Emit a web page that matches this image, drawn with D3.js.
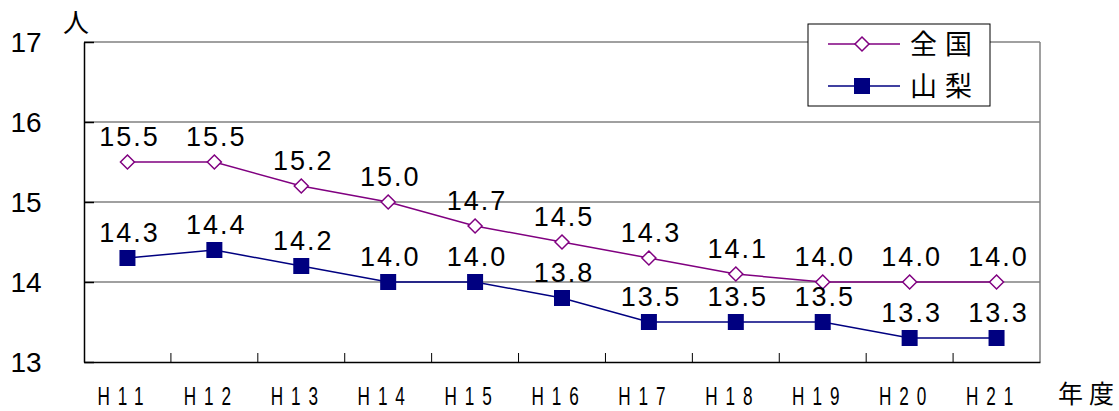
<!DOCTYPE html>
<html>
<head>
<meta charset="utf-8">
<script src="https://cdn.jsdelivr.net/npm/d3@7"></script>
<style>
  body { margin: 0; background: #fff; }
  text { font-family: "Liberation Sans", Arial, sans-serif; fill: #000; }
</style>
</head>
<body>
<div id="chart"></div>
<script>
const years = ['H11', 'H12', 'H13', 'H14', 'H15', 'H16', 'H17', 'H18', 'H19', 'H20', 'H21']
const national = [15.5, 15.5, 15.2, 15.0, 14.7, 14.5, 14.3, 14.1, 14.0, 14.0, 14.0]
const yamanashi = [14.3, 14.4, 14.2, 14.0, 14.0, 13.8, 13.5, 13.5, 13.5, 13.3, 13.3]
const yTicks = [13, 14, 15, 16, 17]

const width = 1119
const height = 411
const margin = { top: 42, right: 79, bottom: 49, left: 84 }

const svg = d3
  .select('#chart')
  .append('svg')
  .attr('width', width)
  .attr('height', height)

const x = d3
  .scaleBand()
  .domain(years)
  .range([margin.left, width - margin.right])

const y = d3
  .scaleLinear()
  .domain([13, 17])
  .range([height - margin.bottom, margin.top])

const cx = d => x(d) + x.bandwidth() / 2

// gridlines
svg
  .append('g')
  .selectAll('line')
  .data(yTicks.slice(1))
  .enter()
  .append('line')
  .attr('x1', margin.left)
  .attr('x2', width - margin.right)
  .attr('y1', d => y(d))
  .attr('y2', d => y(d))
  .attr('stroke', '#808080')
  .attr('stroke-width', 1.5)

// right border
svg
  .append('line')
  .attr('x1', width - margin.right)
  .attr('x2', width - margin.right)
  .attr('y1', y(17))
  .attr('y2', y(13))
  .attr('stroke', '#808080')
  .attr('stroke-width', 1.5)

// y axis
const yAxis = svg
  .append('g')
  .attr('transform', 'translate(' + margin.left + ',0)')
  .call(d3.axisLeft(y).tickValues(yTicks).tickSize(0).tickPadding(0).tickFormat(d3.format('d')))
yAxis.select('.domain').attr('stroke', '#000').attr('stroke-width', 1.5)
yAxis.selectAll('.tick line').remove()
yAxis
  .selectAll('.tick text')
  .attr('x', -58)
  .attr('text-anchor', 'middle')
  .attr('dy', '0.35em')
  .style('font-size', '28px')
  .style('font-family', '"Liberation Sans", Arial, sans-serif')

// small ticks on y axis inside
yAxis
  .selectAll('.tick')
  .append('line')
  .attr('x1', 0)
  .attr('x2', 10)
  .attr('stroke', '#000')
  .attr('stroke-width', 1.5)

// x axis
const xAxis = svg
  .append('g')
  .attr('transform', 'translate(0,' + y(13) + ')')
  .call(d3.axisBottom(x).tickSize(0).tickFormat(''))
xAxis.select('.domain').attr('stroke', '#000').attr('stroke-width', 1.5)
xAxis.selectAll('.tick').remove()

xAxis
  .selectAll('line.sep')
  .data(years.slice(1))
  .enter()
  .append('line')
  .attr('class', 'sep')
  .attr('x1', d => x(d))
  .attr('x2', d => x(d))
  .attr('y1', 0)
  .attr('y2', -9)
  .attr('stroke', '#000')
  .attr('stroke-width', 1)

svg
  .append('g')
  .selectAll('text')
  .data(years)
  .enter()
  .append('text')
  .attr('transform', d => 'translate(' + (cx(d) - 3) + ',' + 405 + ') scale(0.66,1)')
  .attr('text-anchor', 'middle')
  .style('font-size', '26px')
  .style('letter-spacing', '12px')
  .text(d => d)

// unit labels
svg
  .append('text')
  .attr('x', 76)
  .attr('y', 32)
  .attr('text-anchor', 'middle')
  .style('font-size', '26px')
  .style('font-family', '"Noto Sans CJK JP", sans-serif')
  .text('人')

svg
  .append('text')
  .attr('x', 1058)
  .attr('y', 403)
  .style('font-size', '25px')
  .style('letter-spacing', '6px')
  .style('font-family', '"Noto Sans CJK JP", sans-serif')
  .text('年度')

const line = d3
  .line()
  .x((d, i) => cx(years[i]))
  .y(d => y(d))

// 全国
svg
  .append('path')
  .datum(national)
  .attr('fill', 'none')
  .attr('stroke', '#800080')
  .attr('stroke-width', 1.5)
  .attr('d', line)

const diamond = 'M0,-7L7,0L0,7L-7,0Z'

svg
  .append('g')
  .selectAll('path')
  .data(national)
  .enter()
  .append('path')
  .attr('transform', (d, i) => 'translate(' + cx(years[i]) + ',' + y(d) + ')')
  .attr('d', diamond)
  .attr('fill', '#fff')
  .attr('stroke', '#800080')
  .attr('stroke-width', 1.5)

// 山梨
svg
  .append('path')
  .datum(yamanashi)
  .attr('fill', 'none')
  .attr('stroke', '#000080')
  .attr('stroke-width', 1.5)
  .attr('d', line)

svg
  .append('g')
  .selectAll('rect')
  .data(yamanashi)
  .enter()
  .append('rect')
  .attr('x', (d, i) => cx(years[i]) - 8)
  .attr('y', d => y(d) - 8)
  .attr('width', 16)
  .attr('height', 16)
  .attr('fill', '#000080')

// data labels
const labelFmt = d3.format('.1f')
const addLabels = function(data, offset) {
  svg
    .append('g')
    .selectAll('text')
    .data(data)
    .enter()
    .append('text')
    .attr('x', (d, i) => cx(years[i]) + 2)
    .attr('y', d => y(d) - offset)
    .attr('text-anchor', 'middle')
    .style('font-size', '27px')
    .style('letter-spacing', '2px')
    .text(d => labelFmt(d))
}
addLabels(national, 16)
addLabels(yamanashi, 16)

// legend
const legend = svg.append('g').attr('transform', 'translate(808,24)')
legend
  .append('rect')
  .attr('width', 182)
  .attr('height', 82)
  .attr('fill', '#fff')
  .attr('stroke', '#000')
  .attr('stroke-width', 1)

const legendItems = [
  { name: '全国', color: '#800080', yy: 20 },
  { name: '山梨', color: '#000080', yy: 62 },
]

legendItems.forEach(function(item, i) {
  legend
    .append('line')
    .attr('x1', 20)
    .attr('x2', 92)
    .attr('y1', item.yy)
    .attr('y2', item.yy)
    .attr('stroke', item.color)
    .attr('stroke-width', 1.5)
  if (i === 0) {
    legend
      .append('path')
      .attr('transform', 'translate(54,' + item.yy + ')')
      .attr('d', diamond)
      .attr('fill', '#fff')
      .attr('stroke', item.color)
      .attr('stroke-width', 1.5)
  } else {
    legend
      .append('rect')
      .attr('x', 46)
      .attr('y', item.yy - 8)
      .attr('width', 16)
      .attr('height', 16)
      .attr('fill', item.color)
  }
  legend
    .append('text')
    .attr('x', 102)
    .attr('y', item.yy + 10)
    .style('font-size', '27px')
    .style('letter-spacing', '8px')
    .style('font-family', '"Noto Sans CJK JP", sans-serif')
    .text(item.name)
})
</script>
</body>
</html>
